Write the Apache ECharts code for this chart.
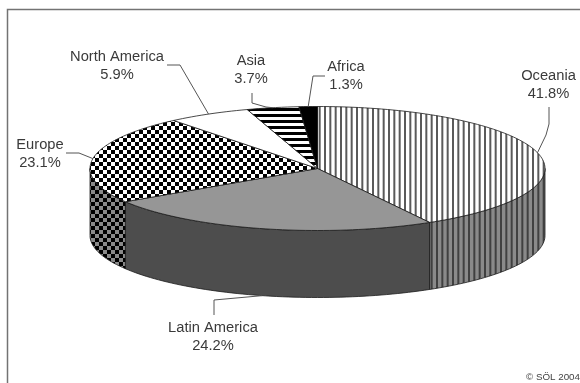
<!DOCTYPE html>
<html>
<head>
<meta charset="utf-8">
<style>html,body{margin:0;padding:0;background:#fff}#chart{width:580px;height:383px}</style>
<script src="https://cdn.jsdelivr.net/npm/echarts@6/dist/echarts.min.js"></script>
</head>
<body>
<div id="chart"></div>
<script>
// Regional shares, clockwise from twelve o'clock.
const regions = ['Oceania', 'Latin America', 'Europe', 'North America', 'Asia', 'Africa'];
const shares = [41.8, 24.2, 23.1, 5.9, 3.7, 1.3];
const credit = '© SÖL 2004';

// Tilted disc geometry.
const disc = { cx: 317.5, cy: 168.5, rx: 227.5, ry: 62, depth: 67 };

// Label centre and elbow points of each leader line.
const labelAt = {
  'Oceania': [548.5, 85], 'Latin America': [213, 337], 'Europe': [40, 154],
  'North America': [117, 66], 'Asia': [251, 70], 'Africa': [346, 76]
};
const elbows = {
  'Oceania': [[549, 107], [549, 124], [546, 135]],
  'Latin America': [[214, 315], [214, 300]],
  'Europe': [[66, 153], [79, 153]],
  'North America': [[167, 65], [180, 65]],
  'Asia': [[252, 93], [252, 103], [266, 107]],
  'Africa': [[325, 76], [313, 76]]
};

function tile(w, h, paint) {
  const c = document.createElement('canvas');
  c.width = w; c.height = h;
  paint(c.getContext('2d'));
  return { image: c, repeat: 'repeat' };
}
function vStripes(bg, ink) {
  return tile(16, 4, g => {
    g.fillStyle = bg; g.fillRect(0, 0, 16, 4);
    g.fillStyle = ink;
    [-1.33, 4, 9.33, 14.67].forEach(x => g.fillRect(x, 0, 2, 4));
  });
}
function hStripes() {
  return tile(4, 6, g => {
    g.fillStyle = '#fff'; g.fillRect(0, 0, 4, 6);
    g.fillStyle = '#000'; g.fillRect(0, 0, 4, 3);
  });
}
function checker(a, b) {
  return tile(8, 8, g => {
    g.fillStyle = a; g.fillRect(0, 0, 8, 8);
    g.fillStyle = b;
    [[3, 2], [7, 6], [-1, 6], [3, -6 + 8 - 8], [7, -2], [-1, -2]].forEach(p => g.fillRect(p[0], p[1], 4, 4));
  });
}

const topFill = {
  'Oceania': vStripes('#fff', '#5a5a5a'),
  'Latin America': '#969696',
  'Europe': checker('#fff', '#000'),
  'North America': '#fff',
  'Asia': hStripes(),
  'Africa': '#000'
};
const wallFill = {
  'Oceania': vStripes('#8a8a8a', '#404040'),
  'Latin America': '#4d4d4d',
  'Europe': checker('#8a8a8a', '#000')
};

const total = shares.reduce((a, b) => a + b, 0);
function rimPoint(deg, drop) {
  const t = deg * Math.PI / 180;
  return [disc.cx + disc.rx * Math.sin(t), disc.cy - disc.ry * Math.cos(t) + (drop || 0)];
}
function arc(from, to, drop) {
  const pts = [], n = Math.max(2, Math.ceil((to - from) / 1.5));
  for (let i = 0; i <= n; i++) pts.push(rimPoint(from + (to - from) * i / n, drop));
  return pts;
}

const edge = { stroke: '#1c1c1c', lineWidth: 0.8 };

function renderSlice(params, api) {
  const name = regions[params.dataIndex];
  const value = api.value(0);
  let before = 0;
  for (let i = 0; i < params.dataIndex; i++) before += shares[i];
  const a0 = before / total * 360, a1 = (before + value) / total * 360;
  const children = [];

  // Outer wall: only the front half of the rim is visible.
  const w0 = Math.max(a0, 90), w1 = Math.min(a1, 270);
  if (w1 > w0) {
    const wall = arc(w0, w1, 0).concat(arc(w0, w1, disc.depth).reverse());
    children.push({ type: 'polygon', shape: { points: wall }, style: Object.assign({ fill: wallFill[name] }, edge) });
  }

  // Top face.
  const face = [[disc.cx, disc.cy]].concat(arc(a0, a1, 0));
  children.push({ type: 'polygon', shape: { points: face }, style: Object.assign({ fill: topFill[name] }, edge) });

  // Leader line runs to the middle of the slice's rim.
  const mid = (a0 + a1) / 2;
  const frontMid = mid > 90 && mid < 270;
  children.push({
    type: 'polyline', z2: 5,
    shape: { points: elbows[name].concat([rimPoint(mid, frontMid ? disc.depth : 0)]) },
    style: { fill: null, stroke: '#555', lineWidth: 1 }
  });

  // Name and share.
  children.push({
    type: 'text', z2: 6,
    x: labelAt[name][0], y: labelAt[name][1],
    style: {
      text: name + '\n' + value.toFixed(1) + '%',
      align: 'center', verticalAlign: 'middle',
      font: '14.7px "Liberation Sans", Arial, sans-serif',
      lineHeight: 18, fill: '#3a3a3a'
    }
  });
  return { type: 'group', children };
}

const chart = echarts.init(document.getElementById('chart'), null, { renderer: 'canvas' });
chart.setOption({
  animation: false,
  backgroundColor: '#fff',
  graphic: [
    { type: 'polyline', shape: { points: [[7.5, 383], [7.5, 9.5], [580, 9.5]] },
      style: { fill: null, stroke: '#737373', lineWidth: 1.5 } },
    { type: 'text', right: 0, top: 372,
      style: { text: credit, font: '9.8px "Liberation Sans", Arial, sans-serif', fill: '#444' } }
  ],
  series: [{
    type: 'custom',
    coordinateSystem: 'none',
    renderItem: renderSlice,
    data: shares.map(v => [v])
  }]
});
</script>
</body>
</html>
